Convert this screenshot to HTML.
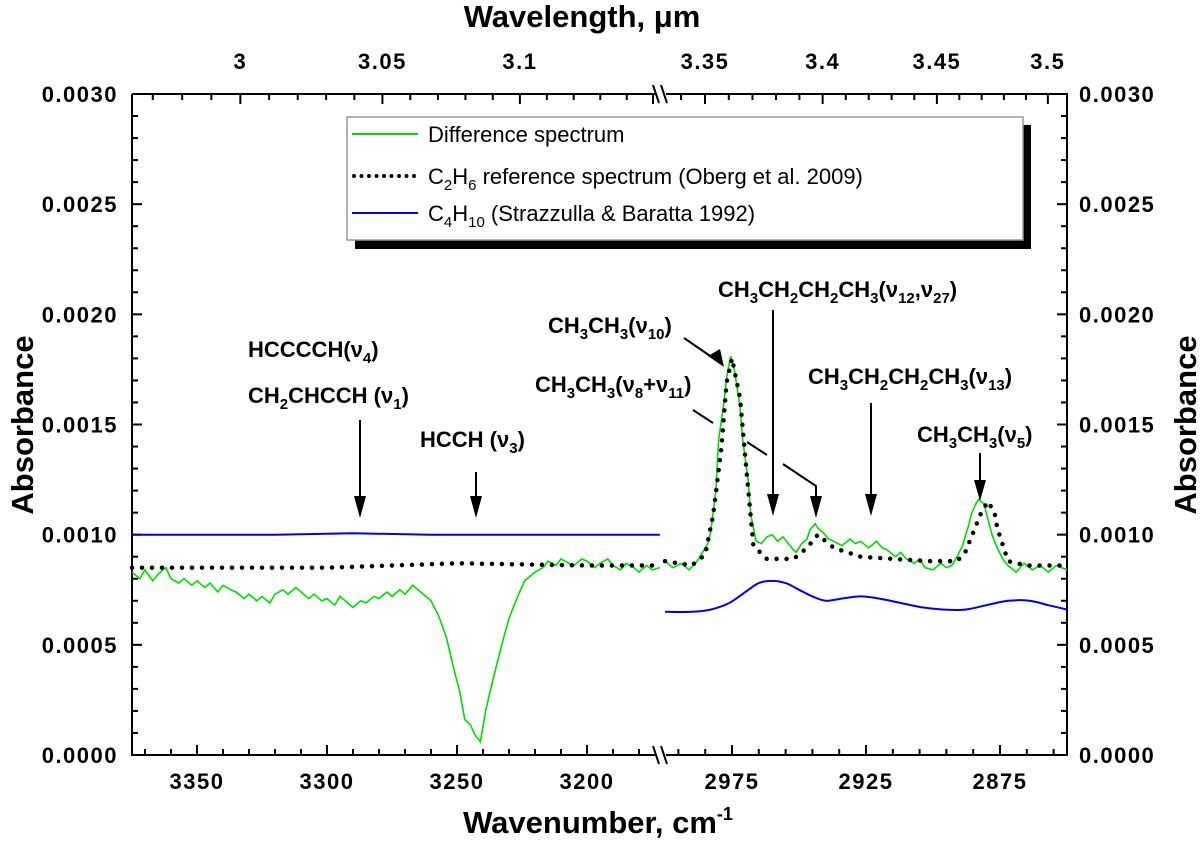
<!DOCTYPE html>
<html><head><meta charset="utf-8"><style>
html,body{margin:0;padding:0;background:#fff}
svg{display:block;font-family:"Liberation Sans",Arial,sans-serif}
.tk{font-size:22px;font-weight:bold;letter-spacing:1.5px}
.ann{font-size:22px;font-weight:bold}
</style></head><body>
<svg id="chart" width="1200" height="844" viewBox="0 0 1200 844" xmlns="http://www.w3.org/2000/svg">
<g id="axes"></g>
<g id="series"></g>
<g id="ann">
<text class="ann" x="248" y="357">HCCCCH(ν<tspan font-size="15" dy="6">4</tspan><tspan dy="-6">)</tspan></text>
<text class="ann" x="248" y="403">CH<tspan font-size="15" dy="6">2</tspan><tspan dy="-6">CHCCH (ν</tspan><tspan font-size="15" dy="6">1</tspan><tspan dy="-6">)</tspan></text>
<text class="ann" x="420" y="447">HCCH (ν<tspan font-size="15" dy="6">3</tspan><tspan dy="-6">)</tspan></text>
<text class="ann" x="548" y="333">CH<tspan font-size="15" dy="6">3</tspan><tspan dy="-6">CH</tspan><tspan font-size="15" dy="6">3</tspan><tspan dy="-6">(ν</tspan><tspan font-size="15" dy="6">10</tspan><tspan dy="-6">)</tspan></text>
<text class="ann" x="718" y="297">CH<tspan font-size="15" dy="6">3</tspan><tspan dy="-6">CH</tspan><tspan font-size="15" dy="6">2</tspan><tspan dy="-6">CH</tspan><tspan font-size="15" dy="6">2</tspan><tspan dy="-6">CH</tspan><tspan font-size="15" dy="6">3</tspan><tspan dy="-6">(ν</tspan><tspan font-size="15" dy="6">12</tspan><tspan dy="-6">,ν</tspan><tspan font-size="15" dy="6">27</tspan><tspan dy="-6">)</tspan></text>
<text class="ann" x="535" y="392">CH<tspan font-size="15" dy="6">3</tspan><tspan dy="-6">CH</tspan><tspan font-size="15" dy="6">3</tspan><tspan dy="-6">(ν</tspan><tspan font-size="15" dy="6">8</tspan><tspan dy="-6">+ν</tspan><tspan font-size="15" dy="6">11</tspan><tspan dy="-6">)</tspan></text>
<text class="ann" x="808" y="384">CH<tspan font-size="15" dy="6">3</tspan><tspan dy="-6">CH</tspan><tspan font-size="15" dy="6">2</tspan><tspan dy="-6">CH</tspan><tspan font-size="15" dy="6">2</tspan><tspan dy="-6">CH</tspan><tspan font-size="15" dy="6">3</tspan><tspan dy="-6">(ν</tspan><tspan font-size="15" dy="6">13</tspan><tspan dy="-6">)</tspan></text>
<text class="ann" x="917" y="442">CH<tspan font-size="15" dy="6">3</tspan><tspan dy="-6">CH</tspan><tspan font-size="15" dy="6">3</tspan><tspan dy="-6">(ν</tspan><tspan font-size="15" dy="6">5</tspan><tspan dy="-6">)</tspan></text>
<g stroke="#000" stroke-width="2" fill="none">
<line x1="360" y1="420" x2="360" y2="500"/>
<line x1="476" y1="472" x2="476" y2="500"/>
<line x1="684" y1="338" x2="716" y2="360"/>
<line x1="773" y1="310" x2="773" y2="498"/>
<polyline points="693,410 713,423"/>
<polyline points="747,442 767,455"/>
<polyline points="783,464 816,486 816,500"/>
<line x1="871" y1="403" x2="871" y2="498"/>
<line x1="980" y1="453" x2="980" y2="484"/>
</g>
<g fill="#000">
<polygon points="354,496 366,496 360,518"/>
<polygon points="470,496 482,496 476,518"/>
<polygon points="708,356 720,349 724,367"/>
<polygon points="767,494 779,494 773,516"/>
<polygon points="810,496 822,496 816,518"/>
<polygon points="865,494 877,494 871,516"/>
<polygon points="974,480 986,480 980,501"/>
</g>
</g>
<g id="legend">
<rect x="355" y="125" width="676" height="124" fill="#000"/>
<rect x="347" y="117" width="676" height="123" fill="#fff" stroke="#999" stroke-width="1.5"/>
<line x1="352" y1="134" x2="418" y2="134" stroke="#00dd00" stroke-width="2"/>
<text x="428" y="142" font-size="22">Difference spectrum</text>
<line x1="354" y1="176" x2="418" y2="176" stroke="#000" stroke-width="4" stroke-linecap="round" stroke-dasharray="0 7.5"/>
<text x="428" y="184" font-size="22">C<tspan font-size="15" dy="6">2</tspan><tspan dy="-6">H</tspan><tspan font-size="15" dy="6">6</tspan><tspan dy="-6"> reference spectrum (Oberg et al. 2009)</tspan></text>
<line x1="352" y1="213" x2="418" y2="213" stroke="#0000ee" stroke-width="2"/>
<text x="428" y="221" font-size="22">C<tspan font-size="15" dy="6">4</tspan><tspan dy="-6">H</tspan><tspan font-size="15" dy="6">10</tspan><tspan dy="-6"> (Strazzulla &amp; Baratta 1992)</tspan></text>
</g>
</svg>
<script>
// ---- data ----
const greenLeftWn = [3375,3372,3370,3367,3365,3362,3360,3357,3355,3352,3350,3347,3345,3342,3340,3337,3335,3332,3330,3327,3325,3322,3320,3317,3315,3312,3310,3307,3305,3302,3300,3297,3295,3292,3290,3287,3285,3282,3280,3277,3275,3272,3270,3267,3265,3262,3260,3257,3254,3251,3249,3247,3245,3243,3241,3239,3236,3233,3230,3227,3224,3220,3217,3215,3212,3210,3207,3205,3202,3200,3197,3195,3192,3190,3187,3185,3182,3180,3177,3175,3172];
const greenLeftVal = [0.00083,0.00080,0.00084,0.00079,0.00082,0.00085,0.00080,0.00078,0.00080,0.00077,0.00079,0.00076,0.00078,0.00074,0.00077,0.00075,0.00074,0.00071,0.00073,0.00070,0.00072,0.00069,0.00073,0.00075,0.00073,0.00076,0.00074,0.00071,0.00073,0.00070,0.00071,0.00068,0.00072,0.00069,0.00067,0.00070,0.00069,0.00072,0.00071,0.00074,0.00072,0.00075,0.00073,0.00077,0.00075,0.00072,0.00070,0.00063,0.00053,0.00038,0.00029,0.00016,0.00014,0.00009,0.00006,0.00020,0.00035,0.00049,0.00062,0.00071,0.00079,0.00083,0.00085,0.00088,0.00086,0.00089,0.00087,0.00086,0.00089,0.00088,0.00085,0.00087,0.00089,0.00086,0.00084,0.00087,0.00085,0.00083,0.00086,0.00084,0.00085];
const greenRightWn = [3000,2997,2994,2991,2988,2986,2984,2983,2981,2980,2978,2977,2976,2975.5,2975,2974,2972,2971,2969,2968,2966,2964,2962,2960,2958,2956,2954,2952,2951,2949,2947,2946,2944,2943,2941,2939,2937,2934,2931,2929,2927,2924,2921,2919,2917,2914,2912,2910,2907,2905,2903,2900,2897,2895,2893,2891,2889,2887,2885.5,2884,2883,2881,2879.5,2878,2876,2874,2872,2869,2866,2863,2860,2857,2854,2850];
const greenRightVal = [0.00088,0.00085,0.00087,0.00084,0.00088,0.00092,0.00096,0.00101,0.00120,0.00143,0.00160,0.00171,0.00178,0.00181,0.00179,0.00174,0.00158,0.00143,0.00125,0.00109,0.00097,0.00096,0.00099,0.00100,0.00097,0.00099,0.00096,0.00093,0.00092,0.00096,0.00098,0.00102,0.00105,0.00103,0.00101,0.00098,0.00097,0.00095,0.00098,0.00096,0.00097,0.00094,0.00097,0.00094,0.00093,0.00090,0.00092,0.00089,0.00087,0.00089,0.00085,0.00084,0.00087,0.00085,0.00086,0.00090,0.00095,0.00103,0.00110,0.00114,0.00116,0.00114,0.00107,0.00100,0.00094,0.00089,0.00086,0.00083,0.00087,0.00084,0.00086,0.00083,0.00086,0.00084];
const refLeftWn = [3375,3300,3250,3200,3172];
const refLeftVal = [0.00085,0.00085,0.00087,0.00086,0.00086];
const refRightWn = [3000,2990,2985,2982,2979,2977,2975,2972,2969.5,2967,2962,2952,2947,2943,2937,2927,2915,2902,2891,2888,2885,2882,2879.5,2877,2876,2872,2865,2850];
const refRightVal = [0.00088,0.00086,0.00091,0.00109,0.00139,0.00169,0.00180,0.00162,0.00128,0.00095,0.00089,0.00089,0.00094,0.00100,0.00094,0.00090,0.00089,0.00088,0.00088,0.00092,0.00101,0.00110,0.00115,0.00110,0.00103,0.00088,0.00086,0.00086];
const blueLeftWn = [3375,3320,3290,3260,3220,3172];
const blueLeftVal = [0.00100,0.00100,0.001006,0.00100,0.00100,0.00100];
const blueRightWn = [3000,2990,2983,2976,2970,2965,2960,2955,2950,2945,2940,2934,2927,2920,2912,2904,2896,2888,2880,2872,2864,2857,2850];
const blueRightVal = [0.00065,0.00065,0.00066,0.00069,0.00074,0.00078,0.00079,0.00078,0.00075,0.00072,0.00070,0.00071,0.00072,0.00071,0.00069,0.00067,0.00066,0.00066,0.00068,0.00070,0.00070,0.00068,0.00066];
const yTicks = [0,0.0005,0.001,0.0015,0.002,0.0025,0.003];
const yTickLabels = ["0.0000","0.0005","0.0010","0.0015","0.0020","0.0025","0.0030"];
const xLeftTicks = [3350,3300,3250,3200];
const xRightTicks = [2975,2925,2875];
const topTicks = [3.0,3.05,3.1,3.35,3.4,3.45,3.5];
const topTickLabels = ["3","3.05","3.1","3.35","3.4","3.45","3.5"];

// ---- scales ----
const L0=132, BRK=660, R0=665, R1=1067, TOP=94, BOT=755;
function xL(w){return L0+(3375-w)*2.6;}
function xR(w){return R0+(3000-w)*2.68;}
function xAny(w){return w>3100?xL(w):xR(w);}
function y(v){return BOT-v*220333;}

const NS="http://www.w3.org/2000/svg";
function mk(tag,attrs,parent){const e=document.createElementNS(NS,tag);for(const k in attrs)e.setAttribute(k,attrs[k]);parent.appendChild(e);return e;}
const ax=document.getElementById('axes'), se=document.getElementById('series');

function path(wns,vals,fx){return wns.map((w,i)=>(i?'L':'M')+fx(w).toFixed(1)+','+y(vals[i]).toFixed(1)).join('');}
function smooth(wns,vals,fx){
  const P=wns.map((w,i)=>[fx(w),y(vals[i])]);
  let d='M'+P[0][0].toFixed(1)+','+P[0][1].toFixed(1);
  for(let i=0;i<P.length-1;i++){
    const p0=P[i-1]||P[i],p1=P[i],p2=P[i+1],p3=P[i+2]||P[i+1];
    const c1=[p1[0]+(p2[0]-p0[0])/6,p1[1]+(p2[1]-p0[1])/6];
    const c2=[p2[0]-(p3[0]-p1[0])/6,p2[1]-(p3[1]-p1[1])/6];
    d+=`C${c1[0].toFixed(1)},${c1[1].toFixed(1)} ${c2[0].toFixed(1)},${c2[1].toFixed(1)} ${p2[0].toFixed(1)},${p2[1].toFixed(1)}`;
  }
  return d;
}
let p;
p=mk('path',{d:path(blueLeftWn,blueLeftVal,xL),stroke:'#0000ee','stroke-width':2,fill:'none'},se);


p=mk('path',{d:smooth(blueRightWn,blueRightVal,xR),stroke:'#0000ee','stroke-width':2,fill:'none'},se);


p=mk('path',{d:path(greenLeftWn,greenLeftVal,xL),stroke:'#00dd00','stroke-width':1.6,fill:'none'},se);


p=mk('path',{d:path(greenRightWn,greenRightVal,xR),stroke:'#00dd00','stroke-width':1.6,fill:'none'},se);


p=mk('path',{d:path(refLeftWn,refLeftVal,xL),stroke:'#000','stroke-width':4.5,'stroke-linecap':'round','stroke-dasharray':'0 10',fill:'none'},se);


p=mk('path',{d:path(refRightWn,refRightVal,xR),stroke:'#000','stroke-width':4.5,'stroke-linecap':'round','stroke-dasharray':'0 10',fill:'none'},se);



// frame
const st={stroke:'#000','stroke-width':2,fill:'none'};
let f;
f=mk('path',Object.assign({d:`M${L0},${TOP}H${BRK-4}M${BRK+6},${TOP}H${R1}V${BOT}H${BRK+6}M${BRK-4},${BOT}H${L0}V${TOP}`},st),ax);


[TOP,BOT].forEach(yy=>{
  const b=mk('path',{d:`M${BRK-7},${yy-9}L${BRK-1},${yy+9}M${BRK+1},${yy-9}L${BRK+7},${yy+9}`,stroke:'#000','stroke-width':2},ax);
  
  
});
// y ticks
for(let i=0;i<=30;i++){
  const v=i*0.0001, yy=y(v), len=(i%5===0)?10:6;
  mk('line',{x1:L0,x2:L0+len,y1:yy,y2:yy,stroke:'#000','stroke-width':2},ax);
  mk('line',{x1:R1,x2:R1-len,y1:yy,y2:yy,stroke:'#000','stroke-width':2},ax);
}
yTicks.forEach((v,i)=>{
  let t=mk('text',{x:118,y:y(v)+8,'text-anchor':'end',class:'tk'},ax);t.textContent=yTickLabels[i];
  
  
  t=mk('text',{x:1079,y:y(v)+8,'text-anchor':'start',class:'tk'},ax);t.textContent=yTickLabels[i];
  
  
});
// bottom ticks
for(let w=3370;w>=3180;w-=10){const x=xL(w),len=(w%50===0)?10:6;mk('line',{x1:x,x2:x,y1:BOT,y2:BOT-len,stroke:'#000','stroke-width':2},ax);}
for(let w=2995;w>=2855;w-=10){const x=xR(w),len=((w-2975)%50===0)?10:6;mk('line',{x1:x,x2:x,y1:BOT,y2:BOT-len,stroke:'#000','stroke-width':2},ax);}
xLeftTicks.forEach(w=>{const t=mk('text',{x:xL(w),y:BOT+34,'text-anchor':'middle',class:'tk'},ax);t.textContent=w;
  
  });
xRightTicks.forEach(w=>{const t=mk('text',{x:xR(w),y:BOT+34,'text-anchor':'middle',class:'tk'},ax);t.textContent=w;
  
  });
// top ticks (wavelength)
for(let k=297;k<=351;k++){
  const um=k/100, w=1e4/um; let x;
  if(w<=3375&&w>=3172)x=xL(w); else if(w<=3000&&w>=2850)x=xR(w); else continue;
  const len=(k%5===0)?10:6;
  mk('line',{x1:x,x2:x,y1:TOP,y2:TOP+len,stroke:'#000','stroke-width':2},ax);
}
topTicks.forEach((um,i)=>{const t=mk('text',{x:xAny(1e4/um),y:TOP-25,'text-anchor':'middle',class:'tk'},ax);t.textContent=topTickLabels[i];
  
  });
// titles
let t;
t=mk('text',{x:582,y:27,'text-anchor':'middle','font-size':31,'font-weight':'bold'},ax);t.textContent='Wavelength, μm';


t=mk('text',{x:598,y:833,'text-anchor':'middle','font-size':31,'font-weight':'bold'},ax);t.innerHTML='Wavenumber, cm<tspan font-size="18" dy="-13">-1</tspan>';


t=mk('text',{x:0,y:0,'text-anchor':'middle','font-size':31,'font-weight':'bold',transform:'translate(33,425) rotate(-90)'},ax);t.textContent='Absorbance';


t=mk('text',{x:0,y:0,'text-anchor':'middle','font-size':31,'font-weight':'bold',transform:'translate(1196,425) rotate(-90)'},ax);t.textContent='Absorbance';


</script>
</body></html>
